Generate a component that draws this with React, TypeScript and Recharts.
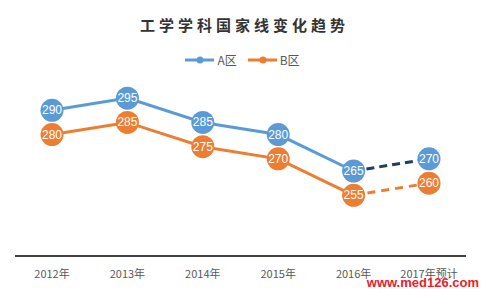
import { LineChart, Line, XAxis, YAxis, LabelList } from 'recharts'

const years = ['2012年', '2013年', '2014年', '2015年', '2016年', '2017年预计']
const aValues = [290, 295, 285, 280, 265, 270]
const bValues = [280, 285, 275, 270, 255, 260]
// index where the forecast (dashed) part begins
const forecastFrom = 4

const BLUE = '#5b9bd5'
const ORANGE = '#ed7d31'
const NAVY = '#203d5e'

const data = years.map((year, i) => ({
  year,
  a: i <= forecastFrom ? aValues[i] : null,
  b: i <= forecastFrom ? bValues[i] : null,
  aF: i >= forecastFrom ? aValues[i] : null,
  bF: i >= forecastFrom ? bValues[i] : null,
}))

const Bubble = (color: string) => (props: any) => {
  const { x, y, value } = props
  if (value == null) return null
  return (
    <g>
      <circle cx={x} cy={y} r={11.5} fill={color} />
      <text x={x} y={y + 4} textAnchor="middle" fill="#fff" fontSize={12} fontFamily="'Liberation Sans', Arial, sans-serif">
        {value}
      </text>
    </g>
  )
}

const LegendItem = ({ color, label }: { color: string; label: string }) => (
  <div style={{ display: 'flex', alignItems: 'center', gap: 3 }}>
    <svg width={29} height={8}>
      <line x1={0} y1={4} x2={29} y2={4} stroke={color} strokeWidth={3} />
      <circle cx={15} cy={4} r={3.5} fill={color} />
    </svg>
    <span style={{ fontSize: 12, color: '#595959' }}>{label}</span>
  </div>
)

export default function App() {
  return (
    <div style={{ position: 'absolute', left: 0, top: 0, width: 481, height: 289, background: '#fff', fontFamily: "'Noto Sans CJK SC', sans-serif" }}>
      <div style={{ position: 'absolute', left: 0, top: 14, width: 481, textAlign: 'center', fontSize: 15, fontWeight: 700, letterSpacing: 4, color: '#333', paddingLeft: 4 }}>
        工学学科国家线变化趋势
      </div>
      <div style={{ position: 'absolute', left: 0, top: 51, width: 481, display: 'flex', justifyContent: 'center', gap: 11, paddingLeft: 2 }}>
        <LegendItem color={BLUE} label="A区" />
        <LegendItem color={ORANGE} label="B区" />
      </div>
      <LineChart width={481} height={289} data={data} margin={{ top: 86, right: 15, left: 15, bottom: 0 }}>
        <YAxis hide domain={[230, 300]} />
        <XAxis
          dataKey="year"
          height={33}
          padding={{ left: 37, right: 37 }}
          axisLine={{ stroke: '#404040', strokeWidth: 2 }}
          tickLine={false}
          tick={{ fontSize: 11, fill: '#595959' }}
          tickMargin={8}
          interval={0}
        />
        <Line dataKey="aF" stroke={NAVY} strokeWidth={3} strokeDasharray="8 5" dot={false} isAnimationActive={false}>
          <LabelList dataKey="aF" content={(p: any) => (p.index === 5 ? Bubble(BLUE)(p) : null)} />
        </Line>
        <Line dataKey="bF" stroke={ORANGE} strokeWidth={3} strokeDasharray="8 6" dot={false} isAnimationActive={false}>
          <LabelList dataKey="bF" content={(p: any) => (p.index === 5 ? Bubble(ORANGE)(p) : null)} />
        </Line>
        <Line dataKey="a" stroke={BLUE} strokeWidth={3} dot={false} isAnimationActive={false}>
          <LabelList dataKey="a" content={Bubble(BLUE)} />
        </Line>
        <Line dataKey="b" stroke={ORANGE} strokeWidth={3} dot={false} isAnimationActive={false}>
          <LabelList dataKey="b" content={Bubble(ORANGE)} />
        </Line>
      </LineChart>
      <div style={{ position: 'absolute', right: 2, top: 275, fontSize: 13, fontWeight: 700, color: '#e8202a', fontFamily: "'Liberation Sans', Arial, sans-serif" }}>
        www.med126.com
      </div>
    </div>
  )
}
